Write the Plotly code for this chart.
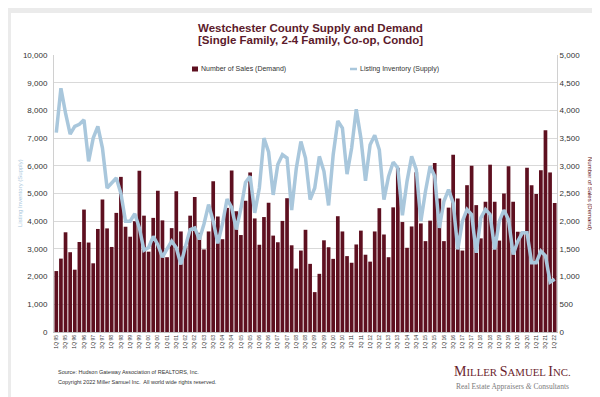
import plotly.graph_objects as go

years = list(range(1995, 2023))
quarters = [f"{q}Q {str(y)[2:]}" for y in years for q in (1, 2, 3, 4)][:109]
tick_labels = quarters[::2]

sales = [1100, 1325, 1800, 1440, 1125, 1625, 2210, 1615, 1240, 1860, 2390, 1870,
         1535, 2150, 2800, 1900, 1720, 2000, 2910, 2100, 1450, 2060, 2550, 2015,
         1350, 1875, 2540, 1815, 1550, 2100, 2435, 1790, 1490, 1815, 2720, 2085,
         1675, 2240, 2915, 2180, 1750, 2370, 2880, 2050, 1575, 2075, 2335, 1740,
         1620, 2005, 2415, 1565, 1145, 1470, 1845, 1230, 720, 1050, 1655, 1530,
         1320, 2090, 1815, 1370, 1250, 1580, 1830, 1395, 1270, 1815, 2235, 1760,
         1350, 2250, 2960, 1985, 1520, 1905, 2885, 1960, 1640, 2010, 3050, 2410,
         1640, 2245, 3200, 2410, 1470, 2650, 3000, 2290, 1690, 2350, 3020, 2350,
         1650, 2500, 2990, 2350, 1810, 1810, 2965, 2650, 2490, 2920, 3640, 2880,
         2330]

inventory = [7200, 8800, 7900, 7140, 7420, 7500, 7660, 6160, 7000, 7420, 6640, 5200,
             5380, 5560, 5000, 4000, 4000, 4270, 3760, 2950, 3050, 3450, 3150, 2700,
             3000, 3280, 3040, 2440, 3100, 3700, 3760, 3340, 3900, 4600, 4000, 3200,
             3900, 4800, 4500, 3700, 4450, 5400, 5620, 4300, 5200, 7000, 6500, 4950,
             6050, 6400, 6280, 4400, 5900, 6880, 6280, 4780, 5200, 6340, 5800, 4570,
             6400, 7620, 7360, 5700, 6640, 8040, 7000, 5460, 6760, 7100, 6580, 4780,
             5620, 6130, 5920, 4210, 5440, 6340, 5860, 4000, 5080, 5980, 5620, 3760,
             4720, 5140, 4660, 2980, 4000, 4420, 4240, 2860, 4120, 4420, 4240, 2980,
             4000, 4400, 4050, 2800, 3280, 3580, 3580, 2500, 2500, 2920, 2750, 1800,
             1900]

SALES_NAME = "Number of Sales (Demand)"
INV_NAME = "Listing Inventory (Supply)"

MAROON = "#5e1020"
BLUE = "#a9c7dc"
TITLE_C = "#5c1a2b"
FONT = "Liberation Sans"

W, H = 600, 397
L, R, T, B = 46, 51, 47, 73
PW, PH = W - L - R, H - T - B


def px(x):
    return (x - L) / PW


def py(y):
    return (H - B - y) / PH


fig = go.Figure()
fig.add_trace(go.Bar(x=quarters, y=sales, name=SALES_NAME,
                     marker=dict(color=MAROON, line=dict(width=0)), yaxis="y"))
fig.add_trace(go.Scatter(x=quarters, y=inventory, name=INV_NAME,
                         mode="lines", line=dict(color=BLUE, width=3.5), yaxis="y2"))

fig.update_layout(
    width=W, height=H,
    margin=dict(l=L, r=R, t=T, b=B, pad=0),
    paper_bgcolor="#ebebeb",
    plot_bgcolor="white",
    font=dict(family=FONT, color="#333333", size=8),
    bargap=0.2,
    showlegend=False,
    xaxis=dict(type="category", tickmode="array", tickvals=tick_labels, ticktext=tick_labels,
               tickangle=-90, tickfont=dict(size=5, color="#333333"), showgrid=False,
               showline=True, linecolor="#bfbfbf", ticks="", range=[-0.5, 108.5]),
    yaxis=dict(side="right", range=[0, 5000], dtick=500, tickformat=",",
               gridcolor="#d9d9d9", gridwidth=1, showline=True, linecolor="#d0d0d0",
               tickfont=dict(size=8, color="#333333"), zeroline=False, ticks="",
               ticklabelstandoff=0),
    yaxis2=dict(side="left", overlaying="y", range=[0, 10000], dtick=1000, tickformat=",",
                showgrid=False, showline=True, linecolor="#d0d0d0",
                tickfont=dict(size=8, color="#333333"), zeroline=False, ticks="",
                ticklabelstandoff=4),
)

# white card on a light grey frame
fig.add_shape(type="rect", xref="paper", yref="paper",
              x0=px(3), x1=px(597), y0=py(389), y1=py(5),
              fillcolor="white", line=dict(width=0), layer="below")

# legend keys
fig.add_shape(type="rect", xref="paper", yref="paper",
              x0=px(184), x1=px(190), y0=py(63.5), y1=py(58.5),
              fillcolor=MAROON, line=dict(width=0))
fig.add_shape(type="line", xref="paper", yref="paper",
              x0=px(342), x1=px(349), y0=py(61), y1=py(61),
              line=dict(color=BLUE, width=2.5))

ann = [
    dict(text="<b>Westchester County Supply and Demand</b>", x=px(302), y=py(20),
         font=dict(size=11.5, color=TITLE_C)),
    dict(text="<b>[Single Family, 2-4 Family, Co-op, Condo]</b>", x=px(302), y=py(32),
         font=dict(size=11.5, color=TITLE_C)),
    dict(text=SALES_NAME, x=px(190.5), y=py(61), xanchor="left",
         font=dict(size=7, color="#333333")),
    dict(text=INV_NAME, x=px(349.5), y=py(61), xanchor="left",
         font=dict(size=7, color="#333333")),
    dict(text="Listing Inventory (Supply)", x=px(12), y=py(185), textangle=-90,
         font=dict(size=6, color=BLUE)),
    dict(text="Number of Sales (Demand)", x=px(582), y=py(185), textangle=90,
         font=dict(size=6, color=MAROON)),
    dict(text="Source: Hudson Gateway Association of REALTORS, Inc.", x=px(48), y=py(364),
         xanchor="left", font=dict(size=5.5, color="#333333")),
    dict(text="Copyright 2022 Miller Samuel Inc.  All world wide rights reserved.", x=px(48),
         y=py(374), xanchor="left", font=dict(size=5.5, color="#333333")),
    dict(text=("<span style='font-size:14px'>M</span>ILLER "
               "<span style='font-size:14px'>S</span>AMUEL "
               "<span style='font-size:14px'>I</span>NC."),
         x=px(504), y=py(363), font=dict(size=10.8, color="#6b1e2e", family="Liberation Serif")),
    dict(text="Real Estate Appraisers <i>&amp;</i> Consultants", x=px(504), y=py(378),
         font=dict(size=7.5, color="#7a7a7a", family="Liberation Serif")),
]
for a in ann:
    a.setdefault("xanchor", "center")
    a.setdefault("yanchor", "middle")
    fig.add_annotation(xref="paper", yref="paper", showarrow=False, **a)

fig.write_html("out.html")
